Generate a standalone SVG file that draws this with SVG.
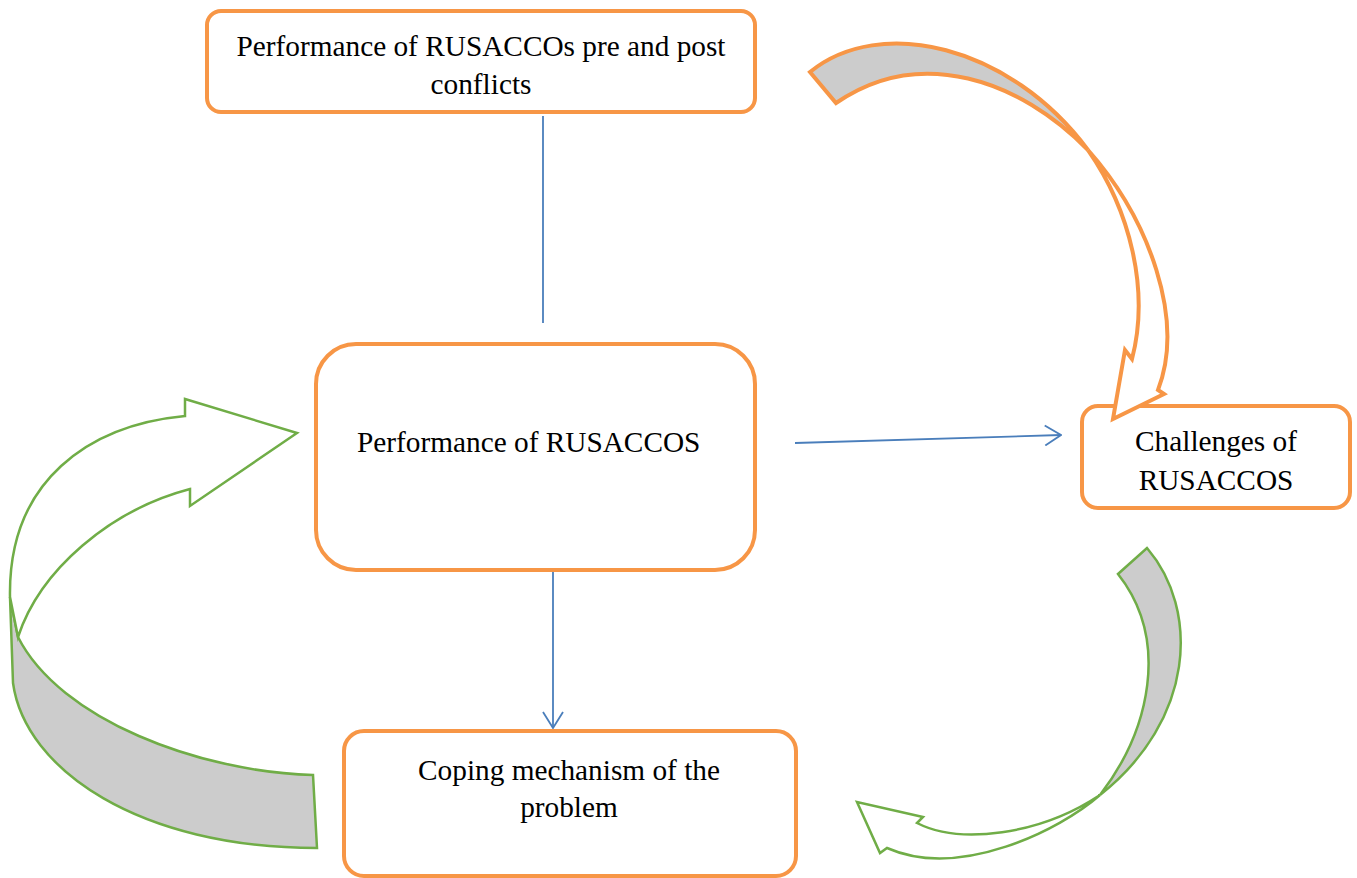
<svg xmlns="http://www.w3.org/2000/svg" width="1357" height="878" viewBox="0 0 1357 878">
<style>
.box{fill:#fff;stroke:#f79646;stroke-width:4}
.t{font-family:"Liberation Serif","Times New Roman",serif;font-size:29.3px;fill:#000}
.c{text-anchor:middle}
.ln{stroke:#4a7ebb;stroke-width:1.8;fill:none}
.og{fill:#cccccc;stroke:#f79646;stroke-width:4;stroke-linejoin:miter}
.ow{fill:#fff;stroke:#f79646;stroke-width:4;stroke-linejoin:miter}
.gg{fill:#cccccc;stroke:#70ad47;stroke-width:2.5}
.gw{fill:#fff;stroke:#70ad47;stroke-width:2.5}
</style>
<defs>
<marker id="ah" viewBox="0 0 18 22" refX="17" refY="11" markerWidth="18" markerHeight="22" markerUnits="userSpaceOnUse" orient="auto">
<path d="M1,1 L17,11 L1,21" fill="none" stroke="#4a7ebb" stroke-width="1.8"/>
</marker>
</defs>
<g id="green-arrows">
<g id="green-left-curve">
<path class="gg" d="M10,597 L13,683 C25,770 140,848 317,848 L313,775 C200,772 60,720 18,637 Z"/>
<path class="gw" d="M10,597 C8,480 90,425 185,416 L185,399 L297,433 L190,506 L190,489 C110,510 40,570 18,637 Z"/>
</g>
<g id="green-right-curve">
<path class="gg" d="M1147,548 C1200,610 1195,720 1100,795 C1150,730 1170,640 1118,574 Z"/>
<path class="gw" d="M1100,795 C1060,830 960,880 887,848 L880,853 L857,802 L923,817 L917,823 C960,845 1040,835 1100,795 Z"/>
</g>
</g>
<g id="connectors">
<line class="ln" x1="543" y1="116" x2="543" y2="323"/>
<line class="ln" x1="795" y1="443" x2="1061" y2="435" marker-end="url(#ah)"/>
<line class="ln" x1="553" y1="571" x2="553" y2="728" marker-end="url(#ah)"/>
</g>
<g id="node-top">
<rect class="box" x="207" y="11" width="548" height="101" rx="14"/>
<text class="t c" x="481" y="56">Performance of RUSACCOs pre and post</text>
<text class="t c" x="481" y="94">conflicts</text>
</g>
<g id="node-middle">
<rect class="box" x="316" y="344" width="439" height="226" rx="40"/>
<text class="t" x="357" y="452">Performance of RUSACCOS</text>
</g>
<g id="node-right">
<rect class="box" x="1082" y="406" width="268" height="102" rx="16"/>
<text class="t c" x="1216" y="451">Challenges of</text>
<text class="t c" x="1216" y="490">RUSACCOS</text>
</g>
<g id="node-bottom">
<rect class="box" x="344" y="731" width="452" height="145" rx="20"/>
<text class="t c" x="569" y="780">Coping mechanism of the</text>
<text class="t c" x="569" y="817">problem</text>
</g>
<g id="orange-curve">
<path class="og" d="M810,72 C880,15 1010,45 1088,150 C1020,80 920,45 836,103 Z"/>
<path class="ow" d="M1088,150 C1150,220 1185,320 1158,390 L1164,394 L1113,419 L1125,350 L1132,359 C1150,290 1130,210 1088,150 Z"/>
</g>
</svg>
